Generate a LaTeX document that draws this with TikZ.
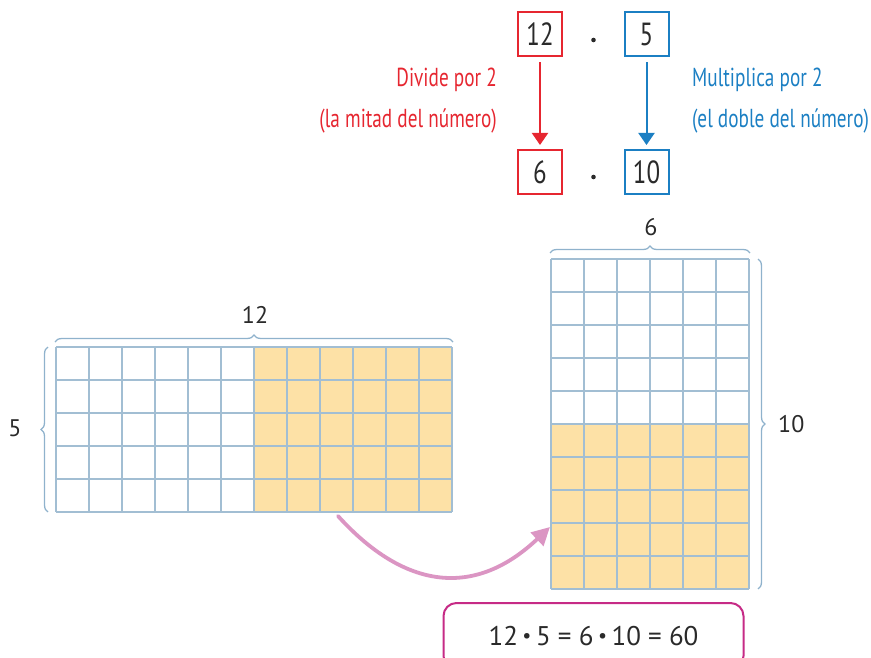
\documentclass[tikz,border=0pt]{standalone}
\usepackage{fontspec}
\setmainfont{PT Sans}
\newfontfamily\condf[FakeStretch=0.74]{PT Sans}
\newfontfamily\numf[FakeStretch=0.78]{PT Sans}
\usetikzlibrary{arrows.meta,decorations.pathreplacing}
\definecolor{redc}{HTML}{E62630}
\definecolor{bluec}{HTML}{1B7FC3}
\definecolor{gridc}{HTML}{A2BED3}
\definecolor{bracec}{HTML}{8FB2CC}
\definecolor{fillc}{HTML}{FDE1A6}
\definecolor{pinkc}{HTML}{DB95C3}
\definecolor{magc}{HTML}{C62B86}
\definecolor{txt}{HTML}{2A2A2A}
\newcommand{\mybul}{\,\raisebox{2.6pt}{\fontsize{20}{20}\selectfont•}\,}
\begin{document}
\begin{tikzpicture}[x=1pt,y=-1pt,
  numbox/.style={draw,line width=2pt,minimum width=44pt,minimum height=44pt,inner sep=0pt,font=\numf\fontsize{32}{33}\selectfont,text=txt},
  lbl/.style={font=\condf\fontsize{26}{28}\selectfont,inner sep=0pt},
  dimlbl/.style={font=\fontsize{24}{28}\selectfont,text=txt,inner sep=0pt},
  brc/.style={draw=bracec,line width=1.3pt,decorate,decoration={brace,amplitude=7pt}},
  gridline/.style={draw=gridc,line width=1.3pt},
  downarrow/.style={line width=2pt,shorten <=5pt,shorten >=4pt,-{Triangle[length=12pt,width=16pt]}}]
\useasboundingbox (0,0) rectangle (871,658);
\clip (0,0) rectangle (871,658);
% top boxes
\node[numbox,draw=redc] (b12) at (540,34.5) {12};
\node[numbox,draw=bluec] (b5) at (646.5,34.5) {5};
\node[numbox,draw=redc] (b6) at (540,172) {6};
\node[numbox,draw=bluec] (b10) at (646.5,172) {10};
\fill[txt] (593.5,40) circle (2.3);
\fill[txt] (593.5,177) circle (2.3);
\draw[downarrow,redc] (b12) -- (b6);
\draw[downarrow,bluec] (b5) -- (b10);
\node[lbl,text=redc,anchor=east] (d1) at (497,80) {Divide por 2};
\node[lbl,text=redc,anchor=east] (d2) at (497,121) {(la mitad del número)};
\node[lbl,text=bluec,anchor=west] (m1) at (692,80) {Multiplica por 2};
\node[lbl,text=bluec,anchor=west] (m2) at (692,121) {(el doble del número)};
% left grid
\fill[fillc] (254,347) rectangle (452,512);
\foreach \i in {0,...,12} \draw[gridline] (56+33*\i,347) -- (56+33*\i,512);
\foreach \j in {0,...,5} \draw[gridline] (56,347+33*\j) -- (452,347+33*\j);
\draw[brc] (55,342) -- (453,342);
\draw[brc] (48,512) -- (48,347);
\node[dimlbl] (l12) at (255,315) {12};
\node[dimlbl] (l5) at (15,428) {5};
% right grid
\fill[fillc] (551,424) rectangle (749,589);
\foreach \i in {0,...,6} \draw[gridline] (551+33*\i,259) -- (551+33*\i,589);
\foreach \j in {0,...,10} \draw[gridline] (551,259+33*\j) -- (749,259+33*\j);
\draw[brc] (550,253) -- (750,253);
\draw[brc] (758,259) -- (758,589);
\node[dimlbl] (l6) at (651,227) {6};
\node[dimlbl,anchor=west] (l10) at (778,424) {10};
% curved arrow
\coordinate (la) at (338,516);
\coordinate (ra) at (550,527);
\draw[pinkc,line width=3.8pt,line cap=round,-{Triangle[length=18pt,width=18pt]}] (la) .. controls (405,590) and (475,598) .. (ra);
% formula
\node[draw=magc,line width=2pt,rounded corners=13pt,minimum width=300pt,minimum height=66pt,text=txt,font=\fontsize{27}{30}\selectfont] (eq) at (593.5,636) {12\mybul 5 = 6\mybul 10 = 60};
\end{tikzpicture}
\end{document}
